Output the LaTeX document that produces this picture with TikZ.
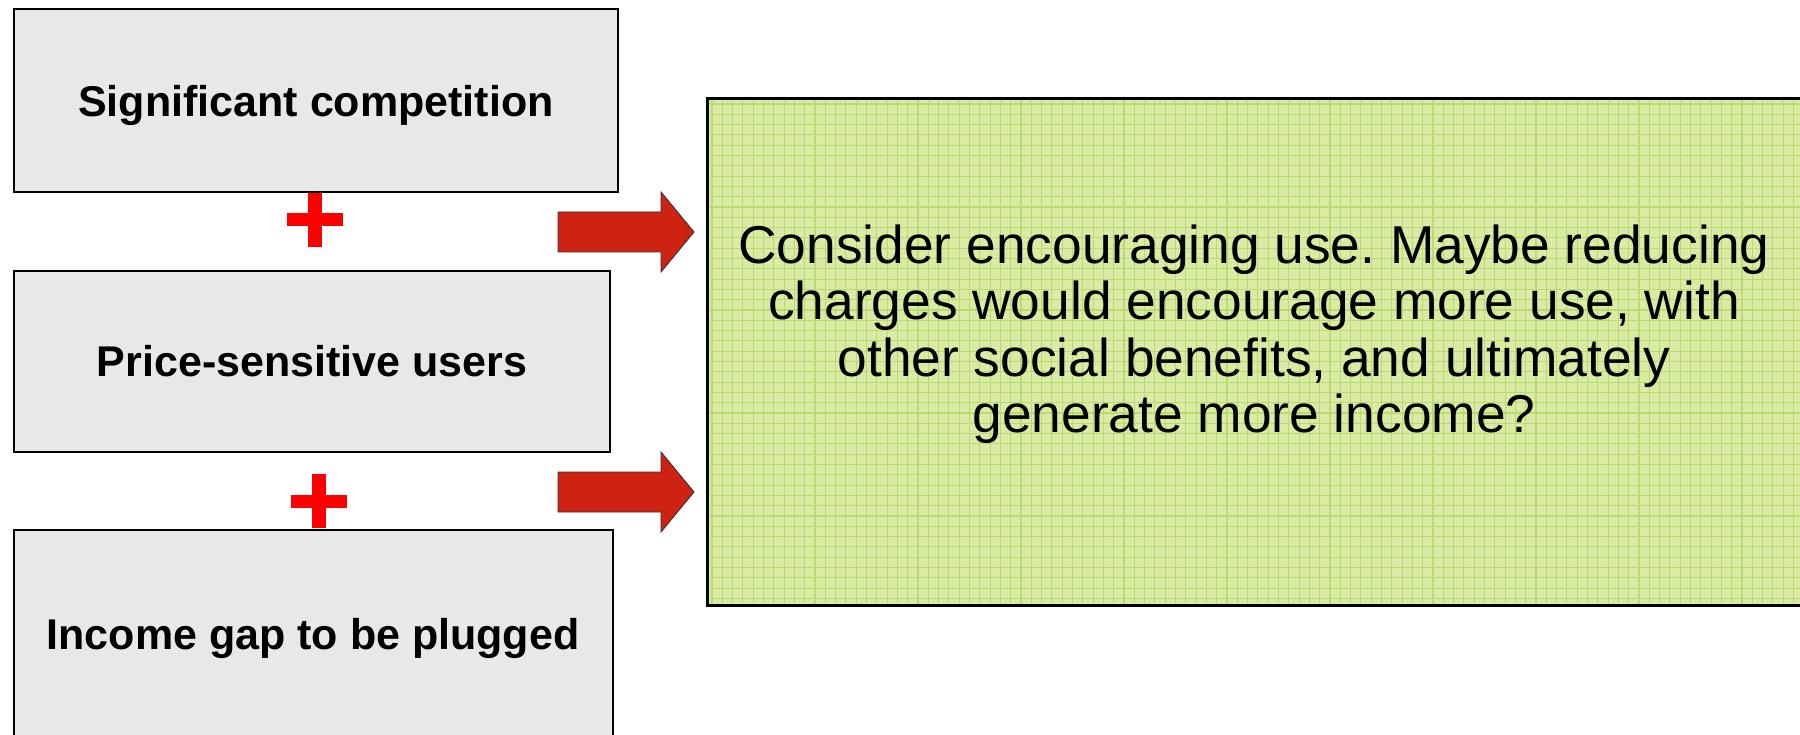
\documentclass[tikz,border=0pt]{standalone}
\usepackage{fontspec}
\setmainfont{Liberation Sans}
\usetikzlibrary{calc}
\frenchspacing
\begin{document}
\definecolor{boxgray}{RGB}{232,232,232}
\definecolor{arrowred}{RGB}{206,34,18}
\definecolor{plusred}{RGB}{255,0,0}
\definecolor{paleGreen}{RGB}{218,235,166}
\definecolor{gridGreen}{RGB}{186,219,112}
\begin{tikzpicture}[x=1pt,y=-1pt,
  factorbox/.style={draw=black, line width=2.4pt, fill=boxgray, inner sep=0pt},
  factortext/.style={inner sep=0pt, font=\fontsize{43}{48}\selectfont\bfseries},
  ideabox/.style={inner sep=0pt, font=\fontsize{53.3}{56.5}\selectfont, align=center},
  blockarrow/.style={fill=arrowred, draw=black!80, line width=0.9pt, line join=miter},
  plusbar/.style={fill=plusred, draw=none}]
\useasboundingbox (0,0) rectangle (1800,735);
\clip (0,0) rectangle (1800,735);

% factor boxes and their labels
\node[factorbox, minimum width=604pt, minimum height=183pt] (b1) at (316,100.5) {};
\node[factorbox, minimum width=596pt, minimum height=181pt] (b2) at (312,361.5) {};
\node[factorbox, minimum width=599pt, minimum height=210pt] (b3) at (313.5,635) {};
\node[factortext] (t1) at (316,105) {Significant competition};
\node[factortext] (t2) at (312,361.5) {Price-sensitive users};
\node[factortext] (t3) at (313,638.5) {Income gap to be plugged};

% plus signs between the boxes
\coordinate (p1) at (315,220);
\coordinate (p2) at (319,501);
\foreach \c in {p1,p2}{
  \fill[plusbar] ($(\c)+(-7,-27)$) rectangle ($(\c)+(7,27)$);
  \fill[plusbar] ($(\c)+(-28,-6.5)$) rectangle ($(\c)+(28,6.5)$);
}

% green idea box with its grid texture
\fill[paleGreen] (707,99) rectangle (1803,605);
\begin{scope}
  \clip (707,99) rectangle (1803,605);
  \foreach \gx in {712,722.3,...,1800}{
    \draw[gridGreen, line width=1.1pt] (\gx,99) -- (\gx,605);
  }
  \foreach \gy in {104,114.3,...,605}{
    \draw[gridGreen, line width=1.1pt] (707,\gy) -- (1803,\gy);
  }
\end{scope}
\draw[black, line width=3pt] (1803,99) -- (707,99) -- (707,605) -- (1803,605);
\node[ideabox] (idea) at (1254,334) {Consider encouraging use. Maybe reducing\\charges would encourage more use, with\\other social benefits, and ultimately\\generate more income?};

% block arrows pointing at the idea box
\foreach \ay in {232,492}{
  \draw[blockarrow] (558,\ay-20) -- (661,\ay-20) -- (661,\ay-40) -- (694,\ay)
    -- (661,\ay+40) -- (661,\ay+20) -- (558,\ay+20) -- cycle;
}
\end{tikzpicture}
\end{document}
